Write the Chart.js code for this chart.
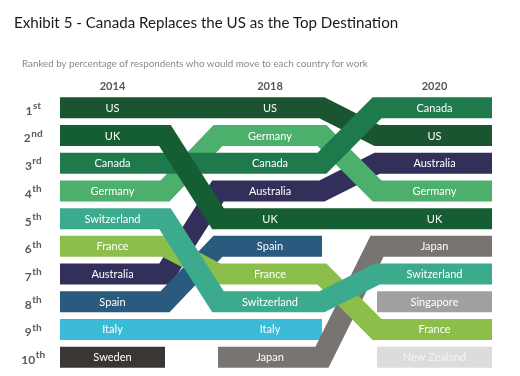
<!DOCTYPE html>
<html>
<head>
<meta charset="utf-8">
<script src="https://cdn.jsdelivr.net/npm/chart.js@4/dist/chart.umd.min.js"></script>
<style>
  html, body { margin: 0; padding: 0; background: #ffffff; }
  #wrap { position: relative; width: 520px; height: 376px; overflow: hidden; }
  #title { position: absolute; left: 14px; top: 13px; font-family: Lato, "Open Sans", sans-serif; font-size: 15.1px; color: #1a1a1a; white-space: nowrap; }
  #subtitle { position: absolute; left: 22px; top: 57px; font-family: Lato, "Open Sans", sans-serif; font-size: 9.8px; color: #8a8a8a; white-space: nowrap; }
  canvas { position: absolute; left: 0; top: 0; }
</style>
</head>
<body>
<div id="wrap">
  <canvas id="c" width="520" height="376"></canvas>
  <div id="title">Exhibit 5 - Canada Replaces the US as the Top Destination</div>
  <div id="subtitle">Ranked by percentage of respondents who would move to each country for work</div>
</div>
<script>
// ---- data ----
const years = ['2014', '2018', '2020'];
const rankNumbers = ['1', '2', '3', '4', '5', '6', '7', '8', '9', '10'];
const rankSuffixes = ['st', 'nd', 'rd', 'th', 'th', 'th', 'th', 'th', 'th', 'th'];
const countries = ['US', 'UK', 'Canada', 'Germany', 'Switzerland', 'France', 'Australia', 'Spain', 'Italy', 'Sweden', 'Japan', 'Singapore', 'New Zealand'];
const rank2014 = [1, 2, 3, 4, 5, 6, 7, 8, 9, 10, null, null, null];
const rank2018 = [1, 5, 3, 2, 8, 7, 4, 6, 9, null, 10, null, null];
const rank2020 = [2, 5, 1, 4, 7, 9, 3, null, null, null, 6, 8, 10];

// ---- style / layout ----
const colors = {
  'US': '#1a5430', 'UK': '#155e34', 'Canada': '#1e7a4c', 'Germany': '#4caf6b',
  'Switzerland': '#3caa8d', 'France': '#8cbf4a', 'Australia': '#322f5b', 'Spain': '#2b5a7f',
  'Italy': '#3bbbd8', 'Sweden': '#3a3634', 'Japan': '#787472', 'Singapore': '#a2a09f', 'New Zealand': '#dcdcdc'
};
const textColors = { 'New Zealand': '#f4f4f4' };
// drawing priority: first = on top
const zOrder = ['Switzerland', 'UK', 'Canada', 'US', 'France', 'Germany', 'Spain', 'Australia', 'Japan', 'Italy', 'Sweden', 'Singapore', 'New Zealand'];
const colStart = [0, 158, 317];
const colEnd = [105, 262, 432];
const bandWidth = 21;

const rankByYear = [rank2014, rank2018, rank2020];

const datasets = countries.map((name, ci) => {
  const pts = [];
  rankByYear.forEach((ranks, yi) => {
    const r = ranks[ci];
    if (r == null) {
      pts.push({ x: (colStart[yi] + colEnd[yi]) / 2, y: null });
    } else {
      pts.push({ x: colStart[yi], y: r });
      pts.push({ x: colEnd[yi], y: r });
    }
  });
  return {
    label: name,
    data: pts,
    borderColor: colors[name],
    backgroundColor: colors[name],
    borderWidth: bandWidth,
    borderCapStyle: 'butt',
    borderJoinStyle: 'miter',
    pointRadius: 0,
    pointHoverRadius: 0,
    tension: 0,
    fill: false,
    spanGaps: false,
    order: zOrder.indexOf(name)
  };
});

const labelPlugin = {
  id: 'bumpLabels',
  afterDatasetsDraw(chart) {
    const ctx = chart.ctx;
    const xs = chart.scales.x, ys = chart.scales.y;
    ctx.save();
    // band labels
    ctx.font = '11px Lato, "Open Sans", sans-serif';
    ctx.textAlign = 'center';
    ctx.textBaseline = 'middle';
    countries.forEach((name, ci) => {
      rankByYear.forEach((ranks, yi) => {
        const r = ranks[ci];
        if (r == null) return;
        const px = xs.getPixelForValue((colStart[yi] + colEnd[yi]) / 2);
        const py = ys.getPixelForValue(r);
        ctx.fillStyle = textColors[name] || '#ffffff';
        ctx.fillText(name, px, py + 0.5);
      });
    });
    // year headers
    ctx.font = 'bold 11px Lato, "Open Sans", sans-serif';
    ctx.fillStyle = '#555555';
    years.forEach((yr, yi) => {
      const px = xs.getPixelForValue((colStart[yi] + colEnd[yi]) / 2);
      ctx.fillText(yr, px, 86);
    });
    // rank labels with superscript suffix
    ctx.textAlign = 'left';
    const numFont = 'bold 12px Lato, "Open Sans", sans-serif';
    const supFont = 'bold 10px Lato, "Open Sans", sans-serif';
    rankNumbers.forEach((num, i) => {
      const py = ys.getPixelForValue(i + 1);
      ctx.font = numFont;
      const w1 = ctx.measureText(num).width;
      ctx.font = supFont;
      const w2 = ctx.measureText(rankSuffixes[i]).width;
      const x0 = 33 - (w1 + w2) / 2;
      ctx.fillStyle = '#5a5a5a';
      ctx.font = numFont;
      ctx.fillText(num, x0, py + 3);
      ctx.font = supFont;
      ctx.fillText(rankSuffixes[i], x0 + w1 + 0.5, py - 2);
    });
    ctx.restore();
  }
};

new Chart(document.getElementById('c'), {
  type: 'line',
  data: { datasets },
  options: {
    responsive: false,
    animation: false,
    devicePixelRatio: 1,
    layout: { padding: { left: 60, right: 28, top: 94, bottom: 5 } },
    plugins: { legend: { display: false }, tooltip: { enabled: false }, title: { display: false } },
    scales: {
      x: { type: 'linear', min: 0, max: 432, display: false },
      y: { type: 'linear', min: 0.5, max: 10.5, reverse: true, display: false }
    }
  },
  plugins: [labelPlugin]
});
</script>
</body>
</html>
